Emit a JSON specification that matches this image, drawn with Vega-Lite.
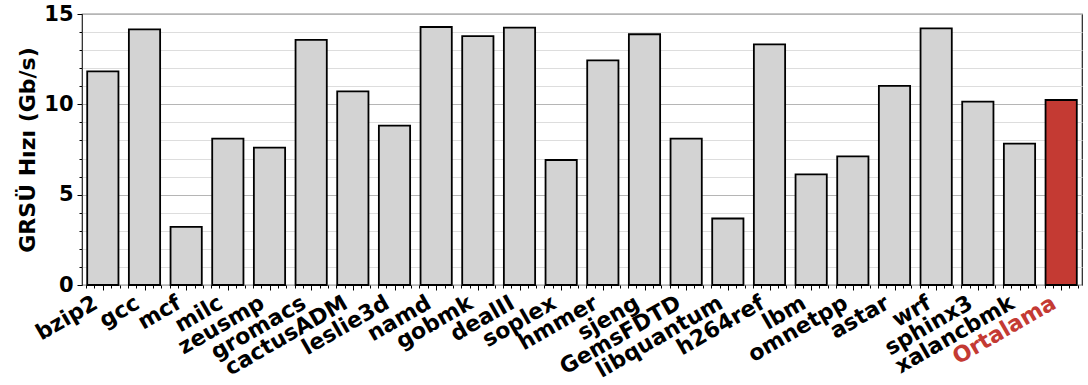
{
  "$schema": "https://vega.github.io/schema/vega-lite/v6.json",
  "autosize": {"type": "none"},
  "padding": {"left": 82, "top": 14, "right": 6, "bottom": 100},
  "width": 1000,
  "height": 271,
  "background": "white",
  "config": {
    "font": "DejaVu Sans",
    "view": {"stroke": "#222222", "strokeWidth": 1.2}
  },
  "datasets": {
    "bars": [
      {"bench": "bzip2", "value": 11.82},
      {"bench": "gcc", "value": 14.15},
      {"bench": "mcf", "value": 3.22},
      {"bench": "milc", "value": 8.1},
      {"bench": "zeusmp", "value": 7.6},
      {"bench": "gromacs", "value": 13.57},
      {"bench": "cactusADM", "value": 10.72},
      {"bench": "leslie3d", "value": 8.82},
      {"bench": "namd", "value": 14.28},
      {"bench": "gobmk", "value": 13.78},
      {"bench": "dealII", "value": 14.25},
      {"bench": "soplex", "value": 6.92},
      {"bench": "hmmer", "value": 12.43},
      {"bench": "sjeng", "value": 13.88},
      {"bench": "GemsFDTD", "value": 8.1},
      {"bench": "libquantum", "value": 3.68},
      {"bench": "h264ref", "value": 13.32},
      {"bench": "lbm", "value": 6.12},
      {"bench": "omnetpp", "value": 7.12},
      {"bench": "astar", "value": 11.02},
      {"bench": "wrf", "value": 14.2},
      {"bench": "sphinx3", "value": 10.15},
      {"bench": "xalancbmk", "value": 7.83},
      {"bench": "Ortalama", "value": 10.24}
    ],
    "xrange": [{"pos": -0.5}, {"pos": 23.5}]
  },
  "resolve": {"scale": {"x": "independent"}, "axis": {"x": "independent"}},
  "layer": [
    {
      "data": {"name": "bars"},
      "mark": {"type": "bar", "stroke": "black", "strokeWidth": 1.8},
      "encoding": {
        "x": {
          "field": "bench",
          "type": "nominal",
          "sort": null,
          "scale": {"paddingInner": 0.25, "paddingOuter": 0.125},
          "axis": {
            "orient": "bottom",
            "title": null,
            "labelAngle": -30,
            "labelAlign": "right",
            "labelBaseline": "top",
            "labelFontSize": 22,
            "labelFontWeight": "bold",
            "labelPadding": 7,
            "labelOffset": -12,
            "labelColor": {"condition": {"test": "datum.value === 'Ortalama'", "value": "#c43a33"}, "value": "black"},
            "ticks": false,
            "domain": false,
            "grid": false
          }
        },
        "y": {
          "field": "value",
          "type": "quantitative",
          "scale": {"domain": [0, 15], "nice": false},
          "axis": {
            "title": "GRSÜ Hızı (Gb/s)",
            "titleFontSize": 22,
            "titleFontWeight": "bold",
            "titlePadding": 4,
            "values": [0,1,2,3,4,5,6,7,8,9,10,11,12,13,14,15],
            "labelExpr": "datum.value % 5 === 0 ? datum.label : ''",
            "labelFontSize": 21,
            "labelFontWeight": "bold",
            "labelPadding": 4,
            "tickColor": "black",
            "tickSize": {"condition": {"test": "datum.value % 5 === 0", "value": 5}, "value": 3},
            "grid": true,
            "gridColor": {"condition": {"test": "datum.value % 5 === 0", "value": "#b5b5b5"}, "value": "#dddddd"},
            "gridWidth": 1,
            "domain": false
          }
        },
        "fill": {
          "condition": {"test": "datum.bench === 'Ortalama'", "value": "#c43a33"},
          "value": "#d3d3d3"
        }
      }
    },
    {
      "data": {"name": "xrange"},
      "mark": {"type": "point", "opacity": 0},
      "encoding": {
        "x": {
          "field": "pos",
          "type": "quantitative",
          "scale": {"domain": [-0.5, 23.5], "nice": false, "zero": false},
          "axis": {
            "orient": "bottom",
            "title": null,
            "tickCount": 120,
            "labels": false,
            "domain": false,
            "grid": false,
            "tickColor": "black",
            "tickSize": {"condition": {"test": "datum.value % 1 === 0", "value": 5}, "value": 3}
          }
        }
      }
    }
  ]
}
